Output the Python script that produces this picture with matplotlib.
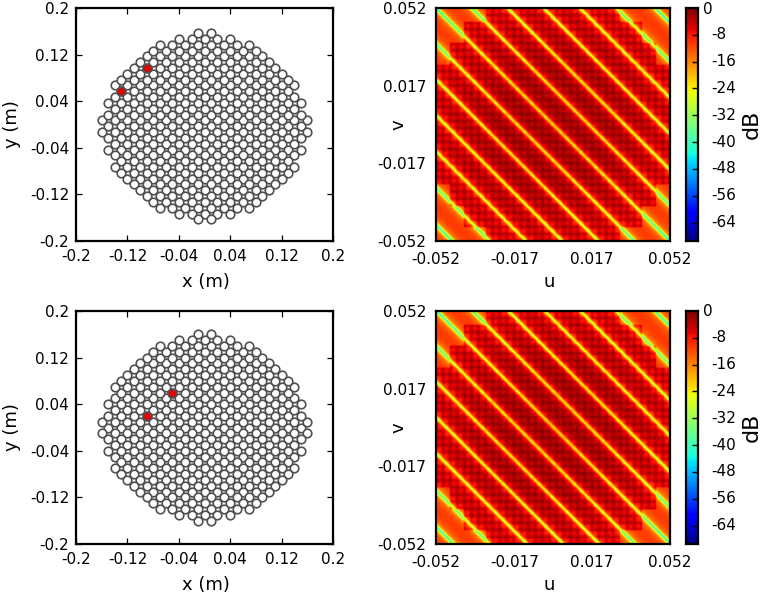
import numpy as np
import matplotlib
matplotlib.use("Agg")
import matplotlib.pyplot as plt

W, H = 763, 596

# element layout: half-width (in 0.01 m steps) of each array row, index = |row|
row_half_widths = [15, 16, 15, 14, 15, 14, 13, 14, 13, 12, 11, 10, 9, 8, 7, 4, 1]
lattice_step = 0.01
red_top = [(-0.13, 0.06), (-0.09, 0.10)]
red_bottom = [(-0.05, 0.06), (-0.09, 0.02)]
array_centre_y_top = -0.003
array_centre_y_bottom = 0.0

xy_ticks = [-0.2, -0.12, -0.04, 0.04, 0.12, 0.2]
xy_tick_labels = ["-0.2", "-0.12", "-0.04", "0.04", "0.12", "0.2"]
uv_ticks = [-0.052, -0.017, 0.017, 0.052]
uv_tick_labels = ["-0.052", "-0.017", "0.017", "0.052"]
cbar_ticks = [0, -8, -16, -24, -32, -40, -48, -56, -64]
db_min = -69.5

# null-line positions on the map, as a fraction of the map width
fringes_top = [-0.93, -0.77, -0.615, -0.46, -0.306, -0.153, 0.0, 0.153, 0.306, 0.46, 0.615, 0.77, 0.936]
fringes_bottom = [-0.925, -0.77, -0.61, -0.455, -0.302, -0.15, 0.003, 0.157, 0.31, 0.465, 0.617, 0.77, 0.936]
# level (dB) against distance from the nearest null line
null_dist = [0.0, 0.004, 0.009, 0.015, 0.025, 0.04, 0.06, 0.08]
null_drop = [-40.0, -22.0, -10.0, -5.5, -2.8, -1.2, -0.3, 0.0]
outside_drop_scale = 1.5
# level (dB) inside the textured area against radius from the centre
radius_pts = [0.0, 0.5, 1.0, 1.3, 1.42]
cell_level = [-4.0, -4.6, -7.0, -8.5, -9.0]
null_floor = [-24.0, -27.0, -34.0, -40.0, -42.0]
outside_level = -10.5
# half-width (in cells) of the textured area for each |row| of cells
mask_half_cells = [16, 16, 16, 16, 16, 16, 16, 16, 16, 14, 14, 14, 12, 12, 12, 9, 9]
n_cells = 33
cell_offset = [0.0, 0.25, 0.38, 0.5]
cell_boost = [0.0, 0.4, 2.2, 5.0]
soften_kernel = [1, 2, 1]


def axes_px(x0, y0, x1, y1):
    return [x0 / W, 1 - y1 / H, (x1 - x0) / W, (y1 - y0) / H]


def style_frame(ax, lw=1.6):
    for s in ax.spines.values():
        s.set_linewidth(lw)


def array_panel(pos, reds, yc):
    ax = fig.add_axes(axes_px(*pos))
    xs, ys = [], []
    for j, hw in enumerate(row_half_widths):
        for sign in ([1, -1] if j else [1]):
            for i in range(-hw, hw + 1):
                if (i + j) % 2:
                    xs.append(i * lattice_step)
                    ys.append(sign * j * lattice_step + yc)
    ax.scatter(xs, ys, s=38, facecolor="white", edgecolor="#505050", linewidth=1.2, zorder=2)
    ax.scatter([p[0] for p in reds], [p[1] + yc for p in reds], s=38, facecolor="#e80000",
               edgecolor="#505050", linewidth=1.2, zorder=3)
    ax.set_xlim(-0.2, 0.2)
    ax.set_ylim(-0.2, 0.2)
    ax.set_xticks(xy_ticks, xy_tick_labels)
    ax.set_yticks(xy_ticks, xy_tick_labels)
    ax.tick_params(direction="in", top=True, right=True, length=4, width=0.9, labelsize=11)
    ax.tick_params(axis="x", pad=6)
    ax.tick_params(axis="y", pad=5)
    ax.set_xlabel("x (m)", fontsize=13, va="center")
    ax.set_ylabel("y (m)", fontsize=13, va="center")
    ax.xaxis.set_label_coords(0.505, -label_gap / (pos[3] - pos[1]))
    ax.yaxis.set_label_coords((12 - pos[0]) / (pos[2] - pos[0]), 0.5)
    style_frame(ax)
    return ax


def soften(z):
    k = np.array(soften_kernel, float)
    k = k / k.sum()
    pad = len(k) // 2
    z = np.pad(z, pad, mode="edge")
    z = np.apply_along_axis(lambda a: np.convolve(a, k, mode="valid"), 0, z)
    z = np.apply_along_axis(lambda a: np.convolve(a, k, mode="valid"), 1, z)
    return z


def beam_map(fringes):
    n = 234
    c = (np.arange(n) + 0.5) / n
    xn, yn = np.meshgrid(c, c)            # yn grows downward on the picture
    w = xn - yn
    d = np.min(np.abs(w[..., None] - np.array(fringes)), axis=-1)
    r = np.hypot(2 * xn - 1, 2 * yn - 1)
    drop = np.interp(d, null_dist, null_drop)
    fx = (xn * n_cells) % 1 - 0.5
    fy = (yn * n_cells) % 1 - 0.5
    # distance from the cell centre: 0 in the middle, 0.5 at the lines between cells
    boost = np.interp(np.abs(fx), cell_offset, cell_boost) + np.interp(np.abs(fy), cell_offset, cell_boost)
    col = np.abs(np.floor(xn * n_cells).astype(int) - n_cells // 2)
    row = np.abs(np.floor(yn * n_cells).astype(int) - n_cells // 2)
    inside = col <= np.array(mask_half_cells)[row]
    base = np.where(inside, np.interp(r, radius_pts, cell_level) + boost, outside_level)
    val = np.minimum(base, -0.3) + np.where(inside, drop, drop * outside_drop_scale)
    return soften(np.maximum(val, np.interp(r, radius_pts, null_floor)))


def map_panel(pos, fringes, cpos):
    ax = fig.add_axes(axes_px(*pos))
    z = beam_map(fringes)
    ax.imshow(z, extent=[-0.052, 0.052, -0.052, 0.052], origin="upper", cmap="jet",
              vmin=db_min, vmax=0, aspect="auto", interpolation="bilinear")
    ax.set_xticks(uv_ticks, uv_tick_labels)
    ax.set_yticks(uv_ticks, uv_tick_labels)
    ax.tick_params(length=0, labelsize=11)
    ax.tick_params(axis="x", pad=8)
    ax.tick_params(axis="y", pad=7)
    ax.set_xlabel("u", fontsize=13, va="center")
    ax.set_ylabel("v", fontsize=13, va="center")
    ax.xaxis.set_label_coords(0.485, -label_gap / (pos[3] - pos[1]))
    ax.yaxis.set_label_coords((398 - pos[0]) / (pos[2] - pos[0]), 0.5)
    style_frame(ax)

    cax = fig.add_axes(axes_px(*cpos))
    grad = np.linspace(0, db_min, 256)[:, None]
    cax.imshow(grad, extent=[0, 1, db_min, 0], origin="upper", cmap="jet", vmin=db_min, vmax=0,
               aspect="auto")
    cax.set_xticks([])
    cax.yaxis.tick_right()
    cax.set_yticks(cbar_ticks, [""] * len(cbar_ticks))
    cax.tick_params(direction="in", length=4, width=1.0, pad=0)
    for t in cbar_ticks:
        xpx = 703 if t == 0 else 711
        ypx_off = 1 if t == 0 else 0
        cax.annotate(str(t), xy=(0, t), xycoords=("axes fraction", "data"),
                     xytext=(xpx - cpos[0], -ypx_off), textcoords="offset pixels",
                     fontsize=11, ha="left", va="center", annotation_clip=False)
    cax.text((752 - cpos[0]) / (cpos[2] - cpos[0]), 0.5, "dB", rotation=90, fontsize=16,
             ha="center", va="center", transform=cax.transAxes)
    style_frame(cax)


label_gap = 41
fig = plt.figure(figsize=(W / 100, H / 100), dpi=100)
array_panel((76, 8, 333, 241), red_top, array_centre_y_top)
array_panel((76, 311, 333, 544), red_bottom, array_centre_y_bottom)
map_panel((436, 8, 670, 241), fringes_top, (686, 8, 698, 241))
map_panel((436, 311, 670, 544), fringes_bottom, (686, 311, 698, 544))
fig.savefig("out.png", dpi=100)
